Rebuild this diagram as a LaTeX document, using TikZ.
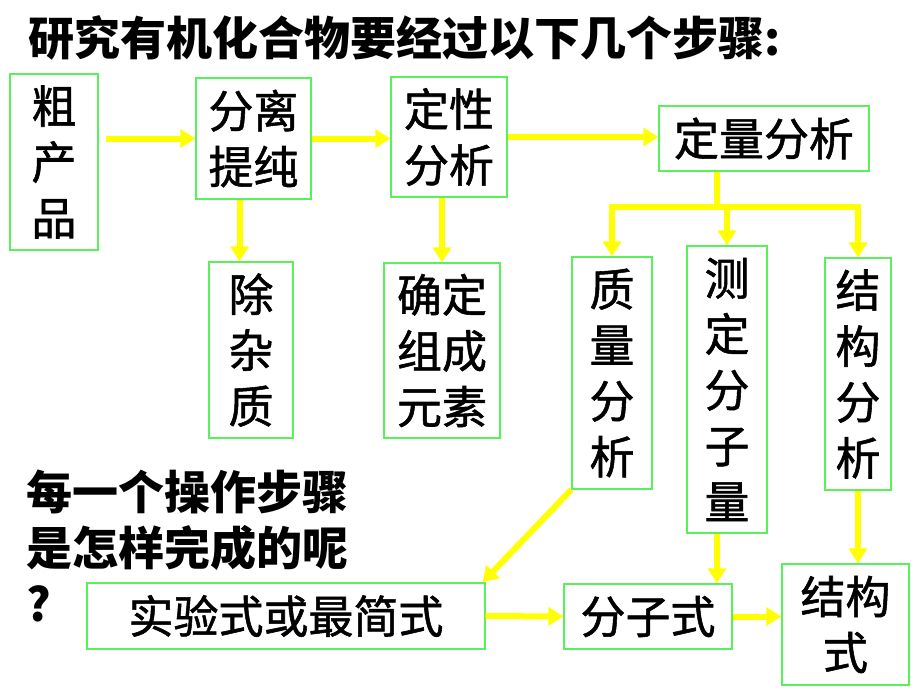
\documentclass[tikz,border=0pt]{standalone}
\usepackage{fontspec}
\newfontfamily\cjk{Noto Sans CJK SC}
\newfontfamily\cjkm{Noto Sans CJK SC}[FakeBold=1.2]
\usetikzlibrary{arrows.meta}
\definecolor{boxgreen}{RGB}{90,240,90}
\definecolor{arryellow}{RGB}{255,255,0}
\tikzset{
  box/.style={draw=boxgreen, line width=0.8pt, inner sep=0pt, align=center,
    font=\cjkm\fontsize{25.6}{31.8}\selectfont},
  arr/.style={draw=arryellow, line width=0.12cm,
    -{Triangle[length=0.3cm,width=0.36cm]}},
  ln/.style={draw=arryellow, line width=0.12cm},
  plain/.style={inner sep=0pt, font=\cjk\bfseries\fontsize{26.2}{31.8}\selectfont}
}
\begin{document}
\begin{tikzpicture}[x=0.02cm,y=-0.02cm]
\path[use as bounding box, fill=white] (0,0) rectangle (920,690);

\node[plain, anchor=west] (title) at (28,38) {研究有机化合物要经过以下几个步骤:};

\node[box, minimum width=1.76cm, minimum height=3.52cm] (crude) at (54,162) {粗\\产\\品};
\node[box, minimum width=2.3cm, minimum height=2.42cm] (sep) at (253.5,138.5) {分离\\提纯};
\node[box, minimum width=2.32cm, minimum height=2.4cm] (qual) at (449,137) {定性\\分析};
\node[box, minimum width=4.2cm, minimum height=1.3cm] (quant) at (764,138.5) {定量分析};
\node[box, minimum width=1.68cm, minimum height=3.52cm] (impur) at (251,350) {除\\杂\\质};
\node[box, minimum width=2.32cm, minimum height=3.5cm] (elem) at (442,350.5) {确定\\组成\\元素};
\node[box, minimum width=1.6cm, minimum height=4.64cm] (mass) at (612,373) {质\\量\\分\\析};
\node[box, minimum width=1.6cm, minimum height=5.74cm] (mw) at (727,389.5) {测\\定\\分\\子\\量};
\node[box, minimum width=1.32cm, minimum height=4.64cm] (struct) at (858,374) {结\\构\\分\\析};
\node[box, minimum width=7.96cm, minimum height=1.32cm] (emp) at (286,616) {实验式或最简式};
\node[box, minimum width=3.36cm, minimum height=1.3cm] (molf) at (648,616.5) {分子式};
\node[box, minimum width=2.54cm, minimum height=2.42cm] (strf) at (845.5,624.5) {结构\\式};

\node[plain, anchor=north west, align=left] (q) at (26,470)
  {每一个操作步骤\\是怎样完成的呢\\?};

\coordinate (j) at (717,207);

\draw[arr] ([xshift=0.14cm]crude.east |- sep.west) -- (sep.west);
\draw[arr] (sep.east) -- (qual.west |- sep.east);
\draw[arr] (qual.east) -- (quant.west |- qual.east);
\draw[arr] ([xshift=-0.28cm]sep.south) -- ([xshift=-0.28cm]sep.south |- impur.north);
\draw[arr] (qual.south -| elem.north) -- (elem.north);
\draw[ln] (j |- quant.south) -- (j);
\draw[ln] ([xshift=-0.06cm]mass.north |- j) -- ([xshift=0.06cm]struct.north |- j);
\draw[arr] (mass.north |- j) -- (mass.north);
\draw[arr] (mw.north |- j) -- (mw.north);
\draw[arr] (struct.north |- j) -- (struct.north);
\draw[arr] (mass.south west) -- ([xshift=-0.06cm]emp.north east);
\draw[arr] ([xshift=-0.2cm]mw.south) -- ([xshift=-0.2cm]mw.south |- molf.north);
\draw[arr] (struct.south) -- (struct.south |- strf.north);
\draw[arr] (emp.east) -- (molf.west);
\draw[arr] (molf.east) -- (molf.east -| strf.west);
\end{tikzpicture}
\end{document}
